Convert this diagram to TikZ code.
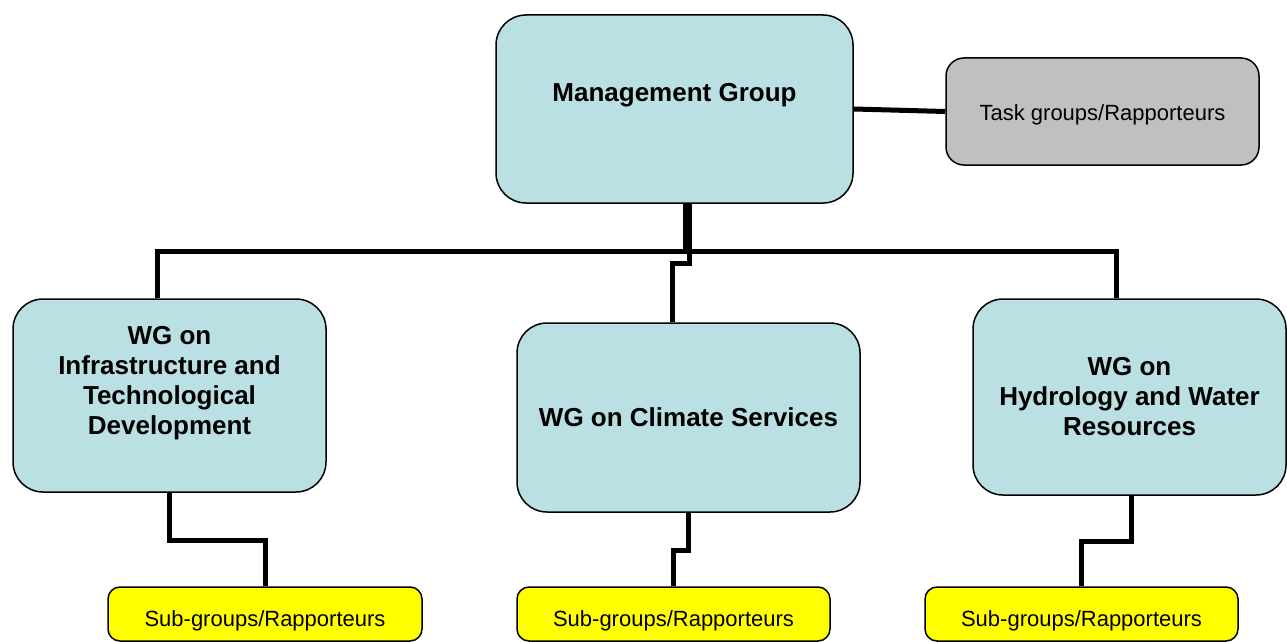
\documentclass[tikz,border=0pt]{standalone}
\usepackage{fontspec}
\setmainfont{Liberation Sans}
\definecolor{wmoInk}{HTML}{000000}
\definecolor{wmoSoftBlue}{HTML}{BBE0E3}
\definecolor{wmoSoftGray}{HTML}{C0C0C0}
\definecolor{wmoYellow}{HTML}{FFFF00}
\tikzset{
  wmoBlock/.style={
    draw=wmoInk,
    fill=wmoSoftBlue,
    rounded corners=30pt,
    line width=1.5pt,
    align=center,
    inner sep=0pt,
    text=wmoInk,
    font=\bfseries\fontsize{26}{30}\selectfont
  },
  wmoSmall/.style={
    wmoBlock,
    rounded corners=18pt,
    font=\fontsize{22}{26}\selectfont
  },
  wmoSub/.style={
    wmoSmall,
    fill=wmoYellow,
    rounded corners=12pt,
    minimum width=313,
    minimum height=54,
    text height=30pt,
    text depth=5pt
  },
  wmoLink/.style={
    line width=5pt,
    draw=wmoInk
  }
}

\begin{document}
\begin{tikzpicture}[x=1pt,y=-1pt]
\useasboundingbox (0,0) rectangle (1287,642);

% Top level.
\node[wmoBlock, minimum width=357, minimum height=188] (mgmt) at (674.5,109)
  {Management Group\\[4pt]\mbox{}};
\node[wmoSmall, fill=wmoSoftGray, minimum width=313, minimum height=107,
      text height=22pt, text depth=5pt] (task) at (1102.5,111.5)
  {Task groups/Rapporteurs};
\draw[wmoLink] (mgmt.east) -- (task.west);

% Working groups.
\node[wmoBlock, minimum width=313, minimum height=193] (infra) at (169.5,395.5)
  {WG on\\Infrastructure and\\Technological\\Development\\\mbox{}};
\node[wmoBlock, minimum width=343, minimum height=189] (climate) at (688.5,417.5)
  {WG on Climate Services};
\node[wmoBlock, minimum width=313, minimum height=196] (hydro) at (1129.5,397)
  {WG on\\Hydrology and Water\\Resources};

\coordinate (bus) at (685,251);
\draw[wmoLink] ([xshift=10.5]mgmt.south) -- (bus);
\draw[wmoLink] ([xshift=-12.5]infra.north) |- (bus) -| ([xshift=-13.5]hydro.north);
\draw[wmoLink] ([xshift=14.5]mgmt.south) -- ++(0,60) -| ([xshift=-16.5]climate.north);

% Sub-groups.
\node[wmoSub, minimum width=314] (subInfra) at (265,614) {Sub-groups/Rapporteurs};
\node[wmoSub] (subClimate) at (673.5,614) {Sub-groups/Rapporteurs};
\node[wmoSub] (subHydro) at (1081.5,614) {Sub-groups/Rapporteurs};

\draw[wmoLink] (infra.south) -- ++(0,48) -| (subInfra.north);
\draw[wmoLink] (climate.south) -- ++(0,38) -| (subClimate.north);
\draw[wmoLink] ([xshift=1.5]hydro.south) -- ++(0,46) -| (subHydro.north);

\end{tikzpicture}
\end{document}
